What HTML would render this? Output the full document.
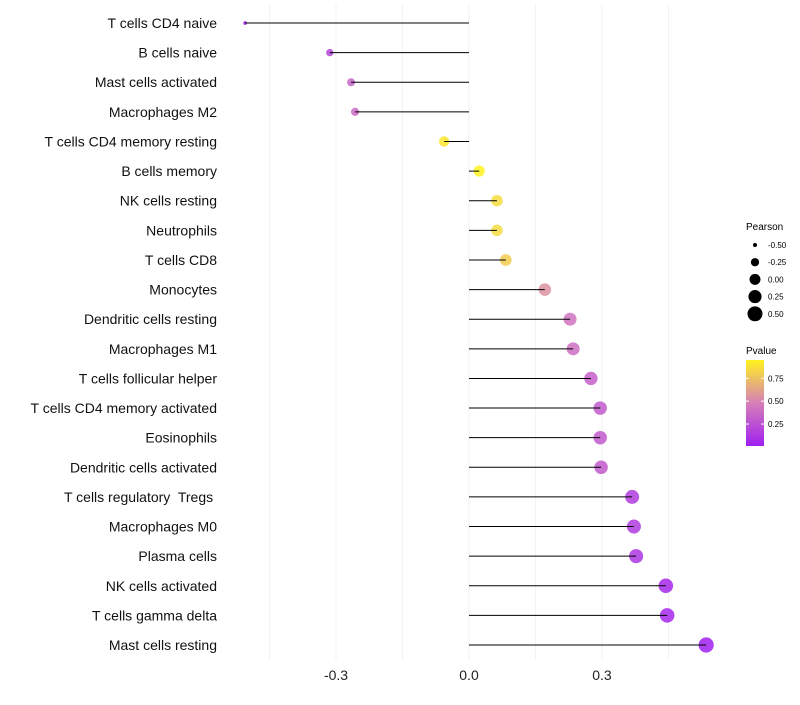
<!DOCTYPE html>
<html><head><meta charset="utf-8"><style>
body{margin:0;background:#fff;font-family:"Liberation Sans",sans-serif}
text{white-space:pre}
</style></head><body>
<svg id="chart" width="800" height="700" xmlns="http://www.w3.org/2000/svg" font-family="Liberation Sans, sans-serif">
<defs><linearGradient id="pg" x1="0" y1="1" x2="0" y2="0">
<stop offset="0" stop-color="#a020f0"/><stop offset="0.5" stop-color="#d67fb8"/><stop offset="1" stop-color="#fff21e"/></linearGradient></defs>
<g id="grid"></g><g id="marks"></g><g id="labels"></g>
<g>
<text x="746" y="230" font-size="10">Pearson</text>
<g id="sizeleg"></g>
<text x="746" y="354" font-size="10">Pvalue</text>
<rect x="746" y="360" width="18" height="86" fill="url(#pg)"/>
<g id="colleg"></g>
</g>
</svg>
<script>
const categories=["T cells CD4 naive","B cells naive","Mast cells activated","Macrophages M2","T cells CD4 memory resting","B cells memory","NK cells resting","Neutrophils","T cells CD8","Monocytes","Dendritic cells resting","Macrophages M1","T cells follicular helper","T cells CD4 memory activated","Eosinophils","Dendritic cells activated","T cells regulatory  Tregs ","Macrophages M0","Plasma cells","NK cells activated","T cells gamma delta","Mast cells resting"];
const pearson=[-0.505,-0.314,-0.266,-0.257,-0.056,0.023,0.063,0.063,0.083,0.171,0.228,0.235,0.275,0.296,0.296,0.298,0.368,0.372,0.377,0.444,0.447,0.535];
const pvalues=[0.02,0.2,0.35,0.38,0.9,0.97,0.85,0.85,0.8,0.55,0.42,0.4,0.32,0.3,0.3,0.3,0.15,0.15,0.12,0.05,0.05,0.01];
const xTicks=[-0.3,0,0.3];
const xTickLabels=["-0.3","0.0","0.3"];
const sizeLegVals=[-0.5,-0.25,0,0.25,0.5];
const colLegVals=[0.25,0.5,0.75];
const NS="http://www.w3.org/2000/svg";
const xs=v=>469+v*443.3;
const ys=i=>23+i*29.62;
const rs=v=>Math.sqrt(Math.max(30+52*v,1));
function lerp(a,b,t){return a.map((x,i)=>Math.round(x+(b[i]-x)*t));}
function col(p){const s=[[160,32,240],[214,127,184],[255,242,30]];const t=Math.min(Math.max((p-0.01)/0.94,0),1);
 const c=t<0.5?lerp(s[0],s[1],t*2):lerp(s[1],s[2],(t-0.5)*2);return`rgb(${c})`;}
function mk(tag,at,parent){const e=document.createElementNS(NS,tag);for(const k in at)e.setAttribute(k,at[k]);parent.appendChild(e);return e;}
const grid=document.getElementById('grid'),marks=document.getElementById('marks'),labels=document.getElementById('labels');
for(let v=-0.45;v<=0.46;v+=0.15){const l=mk('line',{x1:xs(v),x2:xs(v),y1:5,y2:660,stroke:'#f2f2f2','stroke-width':1},grid);

}
xTicks.forEach((v,i)=>{const t=mk('text',{x:xs(v),y:680,'font-size':14,'text-anchor':'middle',fill:'#222'},labels);t.textContent=xTickLabels[i];

});
categories.forEach((c,i)=>{const y=ys(i);
 const t=mk('text',{x:217,y:y+5,'font-size':14,'text-anchor':'end',fill:'#111'},labels);t.textContent=c;
 
 
 const p=mk('circle',{cx:xs(pearson[i]),cy:y,r:rs(pearson[i]),fill:col(pvalues[i]),'fill-opacity':0.85},marks);
 
 
 const l=mk('line',{x1:xs(0),x2:xs(pearson[i]),y1:y,y2:y,stroke:'#000','stroke-width':1},marks);
 
 
});
const sl=document.getElementById('sizeleg');
sizeLegVals.forEach((v,i)=>{const y=245+i*17.2;
 const c=mk('circle',{cx:755,cy:y,r:rs(v),fill:'#000'},sl);
 
 
 const t=mk('text',{x:768,y:y+3,'font-size':8},sl);t.textContent=v.toFixed(2);
 
 });
const cl=document.getElementById('colleg');
colLegVals.forEach(v=>{const y=446-(v-0.01)/0.94*86;
 mk('line',{x1:746,x2:749,y1:y,y2:y,stroke:'#fff'},cl);mk('line',{x1:761,x2:764,y1:y,y2:y,stroke:'#fff'},cl);
 const t=mk('text',{x:768,y:y+3,'font-size':8},cl);t.textContent=v.toFixed(2);
 
 });
</script>
</body></html>
